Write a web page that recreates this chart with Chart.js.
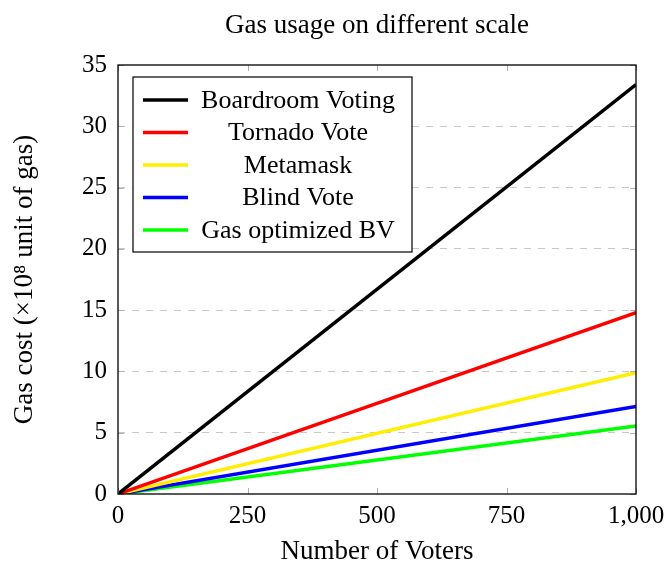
<!DOCTYPE html>
<html>
<head>
<meta charset="utf-8">
<script src="https://cdn.jsdelivr.net/npm/chart.js@4"></script>
<style>
  html, body { margin: 0; padding: 0; background: #fff; }
  #wrap { width: 672px; height: 563px; }
</style>
</head>
<body>
<div id="wrap"><canvas id="gas_chart" width="672" height="563"></canvas></div>
<script>
// Numero de votantes (eixo x)
var voters = [0, 1000];

// Custo de gas (x10^8) para cada metodo
var boardroom_list = [0, 33.4];
var tornado_list = [0, 14.8];
var metamask_list = [0, 9.9];
var blind_list = [0, 7.15];
var optimized_list = [0, 5.55];

var series_names = ['Boardroom Voting', 'Tornado Vote', 'Metamask', 'Blind Vote', 'Gas optimized BV'];
var series_colors = ['#000000', '#ff0000', '#ffee00', '#0000ff', '#00ff00'];
var series_values = [boardroom_list, tornado_list, metamask_list, blind_list, optimized_list];

var x_ticks = [0, 250, 500, 750, 1000];
var y_ticks = [0, 5, 10, 15, 20, 25, 30, 35];

var chart_title = 'Gas usage on different scale';

const serif = "'Liberation Serif', 'DejaVu Serif', serif";

function to_points(values){
    var pts = [];
    for(var i = 0; i < voters.length; i++) {
        pts.push({x: voters[i], y: values[i]});
    }
    return pts;
};

var datasets = [];
for(var i = 0; i < series_names.length; i++) {
    datasets.push({
        label: series_names[i],
        data: to_points(series_values[i]),
        borderColor: series_colors[i],
        backgroundColor: series_colors[i],
        borderWidth: 3.5,
        pointRadius: 0,
        fill: false
    });
}

// Titulo centrado sobre a area do grafico, legenda interna e pequenos ticks internos
const inside_plugin = {
    id: 'inside',
    afterDraw(chart) {
        const ctx = chart.ctx;
        const area = chart.chartArea;
        const xs = chart.scales.x, ys = chart.scales.y;
        ctx.save();
        // titulo
        ctx.fillStyle = '#000';
        ctx.font = '27px ' + serif;
        ctx.textAlign = 'center';
        ctx.textBaseline = 'middle';
        ctx.fillText(chart_title, (area.left + area.right) / 2, 26);

        // ticks internos (estilo pgfplots)
        ctx.strokeStyle = '#b0b0b0';
        ctx.lineWidth = 1;
        x_ticks.forEach(function(v){
            var px = Math.round(xs.getPixelForValue(v)) + 0.5;
            ctx.beginPath();
            ctx.moveTo(px, area.bottom); ctx.lineTo(px, area.bottom - 6);
            ctx.moveTo(px, area.top); ctx.lineTo(px, area.top + 6);
            ctx.stroke();
        });
        y_ticks.forEach(function(v){
            var py = Math.round(ys.getPixelForValue(v)) + 0.5;
            ctx.beginPath();
            ctx.moveTo(area.left, py); ctx.lineTo(area.left + 6, py);
            ctx.moveTo(area.right, py); ctx.lineTo(area.right - 6, py);
            ctx.stroke();
        });
        // borda
        ctx.strokeStyle = '#000';
        ctx.lineWidth = 1.3;
        ctx.strokeRect(area.left, area.top, area.right - area.left, area.bottom - area.top);

        // caixa da legenda
        var bx = area.left + 15, by = area.top + 12, bw = 279, bh = 175;
        ctx.fillStyle = '#fff';
        ctx.fillRect(bx, by, bw, bh);
        ctx.strokeStyle = '#000';
        ctx.lineWidth = 1.2;
        ctx.strokeRect(bx, by, bw, bh);
        ctx.font = '26px ' + serif;
        chart.data.datasets.forEach(function(ds, k){
            var ly = by + 23 + k * 32.5;
            ctx.strokeStyle = ds.borderColor;
            ctx.lineWidth = 3.5;
            ctx.beginPath();
            ctx.moveTo(bx + 10, ly); ctx.lineTo(bx + 55, ly);
            ctx.stroke();
            ctx.fillStyle = '#000';
            ctx.fillText(ds.label, bx + 165, ly + 1);
        });
        ctx.restore();
    }
};

var ctx = document.getElementById('gas_chart');
var gas_chart = new Chart(ctx, {
    type: 'line',
    data: { datasets: datasets },
    options: {
        responsive: false,
        animation: false,
        layout: { padding: { top: 65, right: 36, bottom: 0, left: 0 } },
        plugins: {
            legend: { display: false },
            tooltip: { enabled: false },
            title: { display: false }
        },
        scales: {
            x: {
                type: 'linear',
                min: 0,
                max: 1000,
                afterBuildTicks: function(axis){ axis.ticks = x_ticks.map(function(v){ return {value: v}; }); },
                afterFit: function(axis){ axis.height = 69; },
                grid: { display: false, drawTicks: false },
                border: { display: false },
                ticks: {
                    color: '#000',
                    padding: 7,
                    maxRotation: 0,
                    font: { family: serif, size: 25 },
                    callback: function(v){ return v.toLocaleString('en-US'); }
                },
                title: {
                    display: true,
                    text: 'Number of Voters',
                    color: '#000',
                    font: { family: serif, size: 27, lineHeight: 0.8 },
                    padding: { top: 0, bottom: 0 }
                }
            },
            y: {
                min: 0,
                max: 35,
                afterBuildTicks: function(axis){ axis.ticks = y_ticks.map(function(v){ return {value: v}; }); },
                afterFit: function(axis){ axis.width = 118; },
                grid: {
                    drawTicks: false,
                    color: function(c){ return (c.tick.value === 0 || c.tick.value === 35) ? 'rgba(0,0,0,0)' : '#c8c8c8'; },
                    lineWidth: 1
                },
                border: { display: false, dash: [7, 7] },
                ticks: {
                    color: '#000',
                    padding: 11,
                    font: { family: serif, size: 25 }
                },
                title: {
                    display: true,
                    text: 'Gas cost (×10⁸ unit of gas)',
                    color: '#000',
                    font: { family: serif, size: 27, lineHeight: 1.2 },
                    padding: { top: 9, bottom: 4 }
                }
            }
        }
    },
    plugins: [inside_plugin]
});
</script>
</body>
</html>
